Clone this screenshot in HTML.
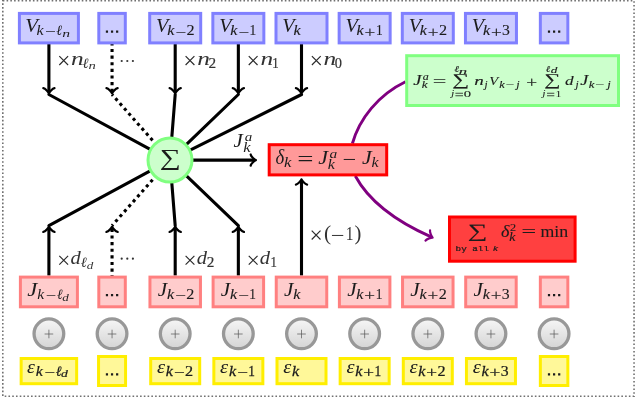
<!DOCTYPE html>
<html><head><meta charset="utf-8"><title>diagram</title>
<style>html,body{margin:0;padding:0;background:#fff;overflow:hidden}svg{display:block}</style>
</head><body>
<svg width="638" height="400" viewBox="0 0 638 400">
<defs><filter id="bl" x="0" y="0" width="638" height="400" filterUnits="userSpaceOnUse"><feGaussianBlur stdDeviation="0.5"/></filter><linearGradient id="g" x1="0" y1="0" x2="0" y2="1"><stop offset="0" stop-color="#f6f6f6"/><stop offset="1" stop-color="#d4d4d4"/></linearGradient></defs>
<rect width="638" height="400" fill="#fff"/>
<g filter="url(#bl)">
<rect x="2.8" y="0.8" width="631.25" height="395.4" fill="none" stroke="#707070" stroke-width="1.6" stroke-dasharray="1.6 2.16"/>
<path d="M43.30 88.13 C45.40 88.48 48.55 92.33 48.90 93.38 C49.25 92.33 52.40 88.48 54.50 88.13" fill="none" stroke="#000" stroke-width="2.24" stroke-linecap="round" stroke-linejoin="round"/>
<line x1="48.90" y1="44.00" x2="48.90" y2="92.33" stroke="#000" stroke-width="3.1" stroke-linecap="butt"/>
<line x1="48.90" y1="94.50" x2="150.22" y2="149.38" stroke="#000" stroke-width="3.1" stroke-linecap="round"/>
<path d="M106.45 88.13 C108.55 88.48 111.70 92.33 112.05 93.38 C112.40 92.33 115.55 88.48 117.65 88.13" fill="none" stroke="#000" stroke-width="2.24" stroke-linecap="round" stroke-linejoin="round"/>
<line x1="112.05" y1="42.30" x2="112.05" y2="92.33" stroke="#000" stroke-width="3.1" stroke-dasharray="3.1 3.53" stroke-dashoffset="0" stroke-linecap="butt"/>
<line x1="112.05" y1="94.50" x2="155.10" y2="143.24" stroke="#000" stroke-width="3.1" stroke-dasharray="3.1 3.53" stroke-dashoffset="1.55" stroke-linecap="butt"/>
<path d="M169.60 88.13 C171.70 88.48 174.85 92.33 175.20 93.38 C175.55 92.33 178.70 88.48 180.80 88.13" fill="none" stroke="#000" stroke-width="2.24" stroke-linecap="round" stroke-linejoin="round"/>
<line x1="175.20" y1="44.00" x2="175.20" y2="92.33" stroke="#000" stroke-width="3.1" stroke-linecap="butt"/>
<line x1="175.20" y1="94.50" x2="171.78" y2="137.67" stroke="#000" stroke-width="3.1" stroke-linecap="round"/>
<path d="M232.75 88.13 C234.85 88.48 238.00 92.33 238.35 93.38 C238.70 92.33 241.85 88.48 243.95 88.13" fill="none" stroke="#000" stroke-width="2.24" stroke-linecap="round" stroke-linejoin="round"/>
<line x1="238.35" y1="44.00" x2="238.35" y2="92.33" stroke="#000" stroke-width="3.1" stroke-linecap="butt"/>
<line x1="238.35" y1="94.50" x2="186.23" y2="144.52" stroke="#000" stroke-width="3.1" stroke-linecap="round"/>
<path d="M295.90 88.13 C298.00 88.48 301.15 92.33 301.50 93.38 C301.85 92.33 305.00 88.48 307.10 88.13" fill="none" stroke="#000" stroke-width="2.24" stroke-linecap="round" stroke-linejoin="round"/>
<line x1="301.50" y1="44.00" x2="301.50" y2="92.33" stroke="#000" stroke-width="3.1" stroke-linecap="butt"/>
<line x1="301.50" y1="94.50" x2="190.13" y2="150.06" stroke="#000" stroke-width="3.1" stroke-linecap="round"/>
<path d="M54.50 231.97 C52.40 231.62 49.25 227.77 48.90 226.72 C48.55 227.77 45.40 231.62 43.30 231.97" fill="none" stroke="#000" stroke-width="2.24" stroke-linecap="round" stroke-linejoin="round"/>
<line x1="48.90" y1="275.50" x2="48.90" y2="227.77" stroke="#000" stroke-width="3.1" stroke-linecap="butt"/>
<line x1="48.90" y1="225.60" x2="150.21" y2="170.80" stroke="#000" stroke-width="3.1" stroke-linecap="round"/>
<path d="M117.65 231.97 C115.55 231.62 112.40 227.77 112.05 226.72 C111.70 227.77 108.55 231.62 106.45 231.97" fill="none" stroke="#000" stroke-width="2.24" stroke-linecap="round" stroke-linejoin="round"/>
<line x1="112.05" y1="278.30" x2="112.05" y2="227.77" stroke="#000" stroke-width="3.1" stroke-dasharray="3.1 3.53" stroke-dashoffset="0" stroke-linecap="butt"/>
<line x1="112.05" y1="225.60" x2="155.09" y2="176.95" stroke="#000" stroke-width="3.1" stroke-dasharray="3.1 3.53" stroke-dashoffset="1.55" stroke-linecap="butt"/>
<path d="M180.80 231.97 C178.70 231.62 175.55 227.77 175.20 226.72 C174.85 227.77 171.70 231.62 169.60 231.97" fill="none" stroke="#000" stroke-width="2.24" stroke-linecap="round" stroke-linejoin="round"/>
<line x1="175.20" y1="275.50" x2="175.20" y2="227.77" stroke="#000" stroke-width="3.1" stroke-linecap="butt"/>
<line x1="175.20" y1="225.60" x2="171.78" y2="182.53" stroke="#000" stroke-width="3.1" stroke-linecap="round"/>
<path d="M243.95 231.97 C241.85 231.62 238.70 227.77 238.35 226.72 C238.00 227.77 234.85 231.62 232.75 231.97" fill="none" stroke="#000" stroke-width="2.24" stroke-linecap="round" stroke-linejoin="round"/>
<line x1="238.35" y1="275.50" x2="238.35" y2="227.77" stroke="#000" stroke-width="3.1" stroke-linecap="butt"/>
<line x1="238.35" y1="225.60" x2="186.24" y2="175.67" stroke="#000" stroke-width="3.1" stroke-linecap="round"/>
<path d="M307.10 184.67 C305.00 184.32 301.85 180.47 301.50 179.42 C301.15 180.47 298.00 184.32 295.90 184.67" fill="none" stroke="#000" stroke-width="2.24" stroke-linecap="round" stroke-linejoin="round"/>
<line x1="301.50" y1="275.50" x2="301.50" y2="180.47" stroke="#000" stroke-width="3.1" stroke-linecap="butt"/>
<path d="M250.63 165.70 C250.98 163.60 254.83 160.45 255.88 160.10 C254.83 159.75 250.98 156.60 250.63 154.50" fill="none" stroke="#000" stroke-width="2.24" stroke-linecap="round" stroke-linejoin="round"/>
<line x1="192.50" y1="160.10" x2="254.83" y2="160.10" stroke="#000" stroke-width="3.1" stroke-linecap="butt"/>
<circle cx="170" cy="160.1" r="22.0" fill="#ccffcc" stroke="#80ff80" stroke-width="3.0"/>
<path d="M352.4 143.5 C359.4 119 378 95 405.5 81.8" fill="none" stroke="#800080" stroke-width="2.9"/>
<path d="M425.50 240.53 C426.68 238.75 431.47 237.44 432.58 237.55 C431.76 236.80 429.52 232.36 430.05 230.30" fill="none" stroke="#800080" stroke-width="2.24" stroke-linecap="round" stroke-linejoin="round"/>
<path d="M355.3 176 C370.8 204.7 401.4 223.8 431.62 237.12" fill="none" stroke="#800080" stroke-width="2.9"/>
<rect x="19.40" y="13.40" width="59.00" height="29.50" fill="#ccccff" stroke="#8080ff" stroke-width="3.0"/>
<rect x="20.40" y="277.10" width="57.00" height="29.70" fill="#ffcccc" stroke="#ff8080" stroke-width="3.0"/>
<rect x="21.15" y="358.50" width="55.50" height="25.20" fill="#fff899" stroke="#ffee00" stroke-width="3.0"/>
<circle cx="48.9" cy="333.8" r="14.85" fill="url(#g)" stroke="#989898" stroke-width="3.3"/>
<path d="M44.60 334H53.20M48.90 329.7V338.3" stroke="#555" stroke-width="0.7" fill="none"/>
<rect x="98.80" y="13.40" width="26.50" height="29.50" fill="#ccccff" stroke="#8080ff" stroke-width="3.0"/>
<rect x="98.80" y="277.10" width="26.50" height="29.70" fill="#ffcccc" stroke="#ff8080" stroke-width="3.0"/>
<rect x="98.55" y="356.50" width="27.00" height="29.00" fill="#fff899" stroke="#ffee00" stroke-width="3.0"/>
<circle cx="112.05" cy="333.8" r="14.85" fill="url(#g)" stroke="#989898" stroke-width="3.3"/>
<path d="M107.75 334H116.35M112.05 329.7V338.3" stroke="#555" stroke-width="0.7" fill="none"/>
<rect x="149.70" y="13.40" width="51.00" height="29.50" fill="#ccccff" stroke="#8080ff" stroke-width="3.0"/>
<rect x="149.95" y="277.10" width="50.50" height="29.70" fill="#ffcccc" stroke="#ff8080" stroke-width="3.0"/>
<rect x="150.70" y="358.50" width="49.00" height="25.20" fill="#fff899" stroke="#ffee00" stroke-width="3.0"/>
<circle cx="175.2" cy="333.8" r="14.85" fill="url(#g)" stroke="#989898" stroke-width="3.3"/>
<path d="M170.90 334H179.50M175.20 329.7V338.3" stroke="#555" stroke-width="0.7" fill="none"/>
<rect x="212.85" y="13.40" width="51.00" height="29.50" fill="#ccccff" stroke="#8080ff" stroke-width="3.0"/>
<rect x="213.10" y="277.10" width="50.50" height="29.70" fill="#ffcccc" stroke="#ff8080" stroke-width="3.0"/>
<rect x="213.85" y="358.50" width="49.00" height="25.20" fill="#fff899" stroke="#ffee00" stroke-width="3.0"/>
<circle cx="238.35" cy="333.8" r="14.85" fill="url(#g)" stroke="#989898" stroke-width="3.3"/>
<path d="M234.05 334H242.65M238.35 329.7V338.3" stroke="#555" stroke-width="0.7" fill="none"/>
<rect x="276.00" y="13.40" width="51.00" height="29.50" fill="#ccccff" stroke="#8080ff" stroke-width="3.0"/>
<rect x="276.25" y="277.10" width="50.50" height="29.70" fill="#ffcccc" stroke="#ff8080" stroke-width="3.0"/>
<rect x="277.00" y="358.50" width="49.00" height="25.20" fill="#fff899" stroke="#ffee00" stroke-width="3.0"/>
<circle cx="301.5" cy="333.8" r="14.85" fill="url(#g)" stroke="#989898" stroke-width="3.3"/>
<path d="M297.20 334H305.80M301.50 329.7V338.3" stroke="#555" stroke-width="0.7" fill="none"/>
<rect x="339.15" y="13.40" width="51.00" height="29.50" fill="#ccccff" stroke="#8080ff" stroke-width="3.0"/>
<rect x="339.40" y="277.10" width="50.50" height="29.70" fill="#ffcccc" stroke="#ff8080" stroke-width="3.0"/>
<rect x="340.15" y="358.50" width="49.00" height="25.20" fill="#fff899" stroke="#ffee00" stroke-width="3.0"/>
<circle cx="364.65" cy="333.8" r="14.85" fill="url(#g)" stroke="#989898" stroke-width="3.3"/>
<path d="M360.35 334H368.95M364.65 329.7V338.3" stroke="#555" stroke-width="0.7" fill="none"/>
<rect x="402.30" y="13.40" width="51.00" height="29.50" fill="#ccccff" stroke="#8080ff" stroke-width="3.0"/>
<rect x="402.55" y="277.10" width="50.50" height="29.70" fill="#ffcccc" stroke="#ff8080" stroke-width="3.0"/>
<rect x="403.30" y="358.50" width="49.00" height="25.20" fill="#fff899" stroke="#ffee00" stroke-width="3.0"/>
<circle cx="427.79999999999995" cy="333.8" r="14.85" fill="url(#g)" stroke="#989898" stroke-width="3.3"/>
<path d="M423.50 334H432.10M427.80 329.7V338.3" stroke="#555" stroke-width="0.7" fill="none"/>
<rect x="465.45" y="13.40" width="51.00" height="29.50" fill="#ccccff" stroke="#8080ff" stroke-width="3.0"/>
<rect x="465.70" y="277.10" width="50.50" height="29.70" fill="#ffcccc" stroke="#ff8080" stroke-width="3.0"/>
<rect x="466.45" y="358.50" width="49.00" height="25.20" fill="#fff899" stroke="#ffee00" stroke-width="3.0"/>
<circle cx="490.95" cy="333.8" r="14.85" fill="url(#g)" stroke="#989898" stroke-width="3.3"/>
<path d="M486.65 334H495.25M490.95 329.7V338.3" stroke="#555" stroke-width="0.7" fill="none"/>
<rect x="540.35" y="13.40" width="27.50" height="29.50" fill="#ccccff" stroke="#8080ff" stroke-width="3.0"/>
<rect x="540.35" y="277.10" width="27.50" height="29.70" fill="#ffcccc" stroke="#ff8080" stroke-width="3.0"/>
<rect x="540.35" y="356.50" width="27.50" height="29.00" fill="#fff899" stroke="#ffee00" stroke-width="3.0"/>
<circle cx="554.1" cy="333.8" r="14.85" fill="url(#g)" stroke="#989898" stroke-width="3.3"/>
<path d="M549.80 334H558.40M554.10 329.7V338.3" stroke="#555" stroke-width="0.7" fill="none"/>
<rect x="269.20" y="144.70" width="117.50" height="30.20" fill="#ff9999" stroke="#ff0000" stroke-width="3.0"/>
<rect x="406.70" y="55.70" width="211.80" height="49.80" fill="#ccffcc" stroke="#80ff80" stroke-width="3.0"/>
<rect x="449.50" y="217.00" width="125.60" height="44.20" fill="#ff4040" stroke="#ff0000" stroke-width="3.0"/>
<path d="M105.85 31.7h2.2M110.95 31.7h2.2M116.05 31.7h2.2" stroke="#1c1c1c" stroke-width="2.2" fill="none"/>
<path d="M105.85 295.2h2.2M110.95 295.2h2.2M116.05 295.2h2.2" stroke="#1c1c1c" stroke-width="2.2" fill="none"/>
<path d="M105.85 374.3h2.2M110.95 374.3h2.2M116.05 374.3h2.2" stroke="#1c1c1c" stroke-width="2.2" fill="none"/>
<text transform="translate(156.05 32.25) scale(1.043 1.000)" font-family="Liberation Serif" font-size="19.32" font-style="italic" fill="#1c1c1c">V</text>
<text transform="translate(167.14 35.40) scale(1.115 1.000)" font-family="Liberation Serif" font-size="14.40" font-style="italic" fill="#1c1c1c" stroke="#1c1c1c" stroke-width="0.12">k</text>
<text transform="translate(175.15 36.50) scale(1.328 1.000)" font-family="Liberation Serif" font-size="14.40" fill="#1c1c1c" stroke="#1c1c1c" stroke-width="0.12">−</text>
<text transform="translate(186.39 35.40) scale(1.154 1.000)" font-family="Liberation Serif" font-size="14.05" fill="#1c1c1c" stroke="#1c1c1c" stroke-width="0.12">2</text>
<text transform="translate(157.68 296.30) scale(1.074 1.000)" font-family="Liberation Serif" font-size="19.70" font-style="italic" fill="#1c1c1c">J</text>
<text transform="translate(166.89 299.00) scale(1.115 1.000)" font-family="Liberation Serif" font-size="14.40" font-style="italic" fill="#1c1c1c" stroke="#1c1c1c" stroke-width="0.12">k</text>
<text transform="translate(174.90 300.10) scale(1.328 1.000)" font-family="Liberation Serif" font-size="14.40" fill="#1c1c1c" stroke="#1c1c1c" stroke-width="0.12">−</text>
<text transform="translate(186.14 299.00) scale(1.154 1.000)" font-family="Liberation Serif" font-size="14.05" fill="#1c1c1c" stroke="#1c1c1c" stroke-width="0.12">2</text>
<text transform="translate(156.96 372.70) scale(1.108 1.000)" font-family="Liberation Serif" font-size="18.46" font-style="italic" fill="#1c1c1c">ε</text>
<text transform="translate(165.74 375.50) scale(1.115 1.000)" font-family="Liberation Serif" font-size="14.40" font-style="italic" fill="#1c1c1c" stroke="#1c1c1c" stroke-width="0.25">k</text>
<text transform="translate(173.75 376.60) scale(1.328 1.000)" font-family="Liberation Serif" font-size="14.40" fill="#1c1c1c" stroke="#1c1c1c" stroke-width="0.25">−</text>
<text transform="translate(184.99 375.50) scale(1.154 1.000)" font-family="Liberation Serif" font-size="14.05" fill="#1c1c1c" stroke="#1c1c1c" stroke-width="0.25">2</text>
<text transform="translate(219.20 32.25) scale(1.043 1.000)" font-family="Liberation Serif" font-size="19.32" font-style="italic" fill="#1c1c1c">V</text>
<text transform="translate(230.29 35.40) scale(1.115 1.000)" font-family="Liberation Serif" font-size="14.40" font-style="italic" fill="#1c1c1c" stroke="#1c1c1c" stroke-width="0.12">k</text>
<text transform="translate(238.30 36.50) scale(1.328 1.000)" font-family="Liberation Serif" font-size="14.40" fill="#1c1c1c" stroke="#1c1c1c" stroke-width="0.12">−</text>
<text transform="translate(249.58 35.40) scale(0.948 1.000)" font-family="Liberation Serif" font-size="14.09" fill="#1c1c1c" stroke="#1c1c1c" stroke-width="0.12">1</text>
<text transform="translate(220.83 296.30) scale(1.074 1.000)" font-family="Liberation Serif" font-size="19.70" font-style="italic" fill="#1c1c1c">J</text>
<text transform="translate(230.04 299.00) scale(1.115 1.000)" font-family="Liberation Serif" font-size="14.40" font-style="italic" fill="#1c1c1c" stroke="#1c1c1c" stroke-width="0.12">k</text>
<text transform="translate(238.05 300.10) scale(1.328 1.000)" font-family="Liberation Serif" font-size="14.40" fill="#1c1c1c" stroke="#1c1c1c" stroke-width="0.12">−</text>
<text transform="translate(249.33 299.00) scale(0.948 1.000)" font-family="Liberation Serif" font-size="14.09" fill="#1c1c1c" stroke="#1c1c1c" stroke-width="0.12">1</text>
<text transform="translate(220.11 372.70) scale(1.108 1.000)" font-family="Liberation Serif" font-size="18.46" font-style="italic" fill="#1c1c1c">ε</text>
<text transform="translate(228.89 375.50) scale(1.115 1.000)" font-family="Liberation Serif" font-size="14.40" font-style="italic" fill="#1c1c1c" stroke="#1c1c1c" stroke-width="0.25">k</text>
<text transform="translate(236.90 376.60) scale(1.328 1.000)" font-family="Liberation Serif" font-size="14.40" fill="#1c1c1c" stroke="#1c1c1c" stroke-width="0.25">−</text>
<text transform="translate(248.18 375.50) scale(0.948 1.000)" font-family="Liberation Serif" font-size="14.09" fill="#1c1c1c" stroke="#1c1c1c" stroke-width="0.25">1</text>
<text transform="translate(282.35 32.25) scale(1.043 1.000)" font-family="Liberation Serif" font-size="19.32" font-style="italic" fill="#1c1c1c">V</text>
<text transform="translate(293.44 35.40) scale(1.115 1.000)" font-family="Liberation Serif" font-size="14.40" font-style="italic" fill="#1c1c1c" stroke="#1c1c1c" stroke-width="0.12">k</text>
<text transform="translate(283.98 296.30) scale(1.074 1.000)" font-family="Liberation Serif" font-size="19.70" font-style="italic" fill="#1c1c1c">J</text>
<text transform="translate(293.19 299.00) scale(1.115 1.000)" font-family="Liberation Serif" font-size="14.40" font-style="italic" fill="#1c1c1c" stroke="#1c1c1c" stroke-width="0.12">k</text>
<text transform="translate(283.26 372.70) scale(1.108 1.000)" font-family="Liberation Serif" font-size="18.46" font-style="italic" fill="#1c1c1c">ε</text>
<text transform="translate(292.04 375.50) scale(1.115 1.000)" font-family="Liberation Serif" font-size="14.40" font-style="italic" fill="#1c1c1c" stroke="#1c1c1c" stroke-width="0.25">k</text>
<text transform="translate(345.50 32.25) scale(1.043 1.000)" font-family="Liberation Serif" font-size="19.32" font-style="italic" fill="#1c1c1c">V</text>
<text transform="translate(356.59 35.40) scale(1.115 1.000)" font-family="Liberation Serif" font-size="14.40" font-style="italic" fill="#1c1c1c" stroke="#1c1c1c" stroke-width="0.12">k</text>
<text transform="translate(364.60 36.50) scale(1.328 1.000)" font-family="Liberation Serif" font-size="14.40" fill="#1c1c1c" stroke="#1c1c1c" stroke-width="0.12">+</text>
<text transform="translate(375.88 35.40) scale(0.948 1.000)" font-family="Liberation Serif" font-size="14.09" fill="#1c1c1c" stroke="#1c1c1c" stroke-width="0.12">1</text>
<text transform="translate(347.13 296.30) scale(1.074 1.000)" font-family="Liberation Serif" font-size="19.70" font-style="italic" fill="#1c1c1c">J</text>
<text transform="translate(356.34 299.00) scale(1.115 1.000)" font-family="Liberation Serif" font-size="14.40" font-style="italic" fill="#1c1c1c" stroke="#1c1c1c" stroke-width="0.12">k</text>
<text transform="translate(364.35 300.10) scale(1.328 1.000)" font-family="Liberation Serif" font-size="14.40" fill="#1c1c1c" stroke="#1c1c1c" stroke-width="0.12">+</text>
<text transform="translate(375.63 299.00) scale(0.948 1.000)" font-family="Liberation Serif" font-size="14.09" fill="#1c1c1c" stroke="#1c1c1c" stroke-width="0.12">1</text>
<text transform="translate(346.41 372.70) scale(1.108 1.000)" font-family="Liberation Serif" font-size="18.46" font-style="italic" fill="#1c1c1c">ε</text>
<text transform="translate(355.19 375.50) scale(1.115 1.000)" font-family="Liberation Serif" font-size="14.40" font-style="italic" fill="#1c1c1c" stroke="#1c1c1c" stroke-width="0.25">k</text>
<text transform="translate(363.20 376.60) scale(1.328 1.000)" font-family="Liberation Serif" font-size="14.40" fill="#1c1c1c" stroke="#1c1c1c" stroke-width="0.25">+</text>
<text transform="translate(374.48 375.50) scale(0.948 1.000)" font-family="Liberation Serif" font-size="14.09" fill="#1c1c1c" stroke="#1c1c1c" stroke-width="0.25">1</text>
<text transform="translate(408.65 32.25) scale(1.043 1.000)" font-family="Liberation Serif" font-size="19.32" font-style="italic" fill="#1c1c1c">V</text>
<text transform="translate(419.74 35.40) scale(1.115 1.000)" font-family="Liberation Serif" font-size="14.40" font-style="italic" fill="#1c1c1c" stroke="#1c1c1c" stroke-width="0.12">k</text>
<text transform="translate(427.75 36.50) scale(1.328 1.000)" font-family="Liberation Serif" font-size="14.40" fill="#1c1c1c" stroke="#1c1c1c" stroke-width="0.12">+</text>
<text transform="translate(438.99 35.40) scale(1.154 1.000)" font-family="Liberation Serif" font-size="14.05" fill="#1c1c1c" stroke="#1c1c1c" stroke-width="0.12">2</text>
<text transform="translate(410.28 296.30) scale(1.074 1.000)" font-family="Liberation Serif" font-size="19.70" font-style="italic" fill="#1c1c1c">J</text>
<text transform="translate(419.49 299.00) scale(1.115 1.000)" font-family="Liberation Serif" font-size="14.40" font-style="italic" fill="#1c1c1c" stroke="#1c1c1c" stroke-width="0.12">k</text>
<text transform="translate(427.50 300.10) scale(1.328 1.000)" font-family="Liberation Serif" font-size="14.40" fill="#1c1c1c" stroke="#1c1c1c" stroke-width="0.12">+</text>
<text transform="translate(438.74 299.00) scale(1.154 1.000)" font-family="Liberation Serif" font-size="14.05" fill="#1c1c1c" stroke="#1c1c1c" stroke-width="0.12">2</text>
<text transform="translate(409.56 372.70) scale(1.108 1.000)" font-family="Liberation Serif" font-size="18.46" font-style="italic" fill="#1c1c1c">ε</text>
<text transform="translate(418.34 375.50) scale(1.115 1.000)" font-family="Liberation Serif" font-size="14.40" font-style="italic" fill="#1c1c1c" stroke="#1c1c1c" stroke-width="0.25">k</text>
<text transform="translate(426.35 376.60) scale(1.328 1.000)" font-family="Liberation Serif" font-size="14.40" fill="#1c1c1c" stroke="#1c1c1c" stroke-width="0.25">+</text>
<text transform="translate(437.59 375.50) scale(1.154 1.000)" font-family="Liberation Serif" font-size="14.05" fill="#1c1c1c" stroke="#1c1c1c" stroke-width="0.25">2</text>
<text transform="translate(471.80 32.25) scale(1.043 1.000)" font-family="Liberation Serif" font-size="19.32" font-style="italic" fill="#1c1c1c">V</text>
<text transform="translate(482.89 35.40) scale(1.115 1.000)" font-family="Liberation Serif" font-size="14.40" font-style="italic" fill="#1c1c1c" stroke="#1c1c1c" stroke-width="0.12">k</text>
<text transform="translate(490.90 36.50) scale(1.328 1.000)" font-family="Liberation Serif" font-size="14.40" fill="#1c1c1c" stroke="#1c1c1c" stroke-width="0.12">+</text>
<text transform="translate(502.10 35.40) scale(1.120 1.000)" font-family="Liberation Serif" font-size="14.05" fill="#1c1c1c" stroke="#1c1c1c" stroke-width="0.12">3</text>
<text transform="translate(473.43 296.30) scale(1.074 1.000)" font-family="Liberation Serif" font-size="19.70" font-style="italic" fill="#1c1c1c">J</text>
<text transform="translate(482.64 299.00) scale(1.115 1.000)" font-family="Liberation Serif" font-size="14.40" font-style="italic" fill="#1c1c1c" stroke="#1c1c1c" stroke-width="0.12">k</text>
<text transform="translate(490.65 300.10) scale(1.328 1.000)" font-family="Liberation Serif" font-size="14.40" fill="#1c1c1c" stroke="#1c1c1c" stroke-width="0.12">+</text>
<text transform="translate(501.85 299.00) scale(1.120 1.000)" font-family="Liberation Serif" font-size="14.05" fill="#1c1c1c" stroke="#1c1c1c" stroke-width="0.12">3</text>
<text transform="translate(472.71 372.70) scale(1.108 1.000)" font-family="Liberation Serif" font-size="18.46" font-style="italic" fill="#1c1c1c">ε</text>
<text transform="translate(481.49 375.50) scale(1.115 1.000)" font-family="Liberation Serif" font-size="14.40" font-style="italic" fill="#1c1c1c" stroke="#1c1c1c" stroke-width="0.25">k</text>
<text transform="translate(489.50 376.60) scale(1.328 1.000)" font-family="Liberation Serif" font-size="14.40" fill="#1c1c1c" stroke="#1c1c1c" stroke-width="0.25">+</text>
<text transform="translate(500.70 375.50) scale(1.120 1.000)" font-family="Liberation Serif" font-size="14.05" fill="#1c1c1c" stroke="#1c1c1c" stroke-width="0.25">3</text>
<path d="M547.90 31.7h2.2M553.00 31.7h2.2M558.10 31.7h2.2" stroke="#1c1c1c" stroke-width="2.2" fill="none"/>
<path d="M547.90 295.2h2.2M553.00 295.2h2.2M558.10 295.2h2.2" stroke="#1c1c1c" stroke-width="2.2" fill="none"/>
<path d="M547.90 374.3h2.2M553.00 374.3h2.2M558.10 374.3h2.2" stroke="#1c1c1c" stroke-width="2.2" fill="none"/>
<text transform="translate(25.21 32.10) scale(1.071 1.000)" font-family="Liberation Serif" font-size="19.40" font-style="italic" fill="#1c1c1c">V</text>
<text transform="translate(36.54 35.40) scale(1.115 1.000)" font-family="Liberation Serif" font-size="14.40" font-style="italic" fill="#1c1c1c">k</text>
<text transform="translate(44.78 36.40) scale(1.351 1.000)" font-family="Liberation Serif" font-size="14.40" fill="#1c1c1c">−</text>
<text transform="translate(56.11 35.40) scale(0.994 1.000)" font-family="Liberation Serif" font-size="14.40" font-style="italic" fill="#1c1c1c">ℓ</text>
<text transform="translate(62.14 36.90) scale(1.561 1.000)" font-family="Liberation Serif" font-size="10.00" font-style="italic" fill="#1c1c1c">n</text>
<text transform="translate(27.26 296.30) scale(1.150 1.000)" font-family="Liberation Serif" font-size="19.70" font-style="italic" fill="#1c1c1c">J</text>
<text transform="translate(37.35 299.10) scale(1.083 1.000)" font-family="Liberation Serif" font-size="14.40" font-style="italic" fill="#1c1c1c">k</text>
<text transform="translate(45.47 300.30) scale(1.298 1.000)" font-family="Liberation Serif" font-size="14.40" fill="#1c1c1c">−</text>
<text transform="translate(56.72 299.10) scale(0.959 1.000)" font-family="Liberation Serif" font-size="14.40" font-style="italic" fill="#1c1c1c">ℓ</text>
<text transform="translate(62.30 300.60) scale(1.313 1.000)" font-family="Liberation Serif" font-size="10.00" font-style="italic" fill="#1c1c1c">d</text>
<text transform="translate(27.07 372.80) scale(1.066 1.000)" font-family="Liberation Serif" font-size="18.68" font-style="italic" fill="#1c1c1c">ε</text>
<text transform="translate(35.84 375.70) scale(1.115 1.000)" font-family="Liberation Serif" font-size="14.40" font-style="italic" fill="#1c1c1c" stroke="#1c1c1c" stroke-width="0.2">k</text>
<text transform="translate(44.16 376.80) scale(1.313 1.000)" font-family="Liberation Serif" font-size="14.40" fill="#1c1c1c" stroke="#1c1c1c" stroke-width="0.2">−</text>
<text transform="translate(55.51 375.70) scale(0.994 1.000)" font-family="Liberation Serif" font-size="14.40" font-style="italic" fill="#1c1c1c" stroke="#1c1c1c" stroke-width="0.2">ℓ</text>
<text transform="translate(60.98 377.20) scale(1.377 1.000)" font-family="Liberation Serif" font-size="10.00" font-style="italic" fill="#1c1c1c" stroke="#1c1c1c" stroke-width="0.2">d</text>
<path d="M59.30 56.20L68.10 65.00M68.10 56.20L59.30 65.00" stroke="#2a2a2a" stroke-width="1.15" fill="none"/>
<text transform="translate(71.00 64.80) scale(1.291 1.000)" font-family="Liberation Serif" font-size="19.60" font-style="italic" fill="#333">n</text>
<text transform="translate(82.20 67.80) scale(1.030 1.000)" font-family="Liberation Serif" font-size="14.40" font-style="italic" fill="#333">ℓ</text>
<text transform="translate(88.38 69.20) scale(1.466 1.000)" font-family="Liberation Serif" font-size="10.00" font-style="italic" fill="#333">n</text>
<path d="M185.60 56.20L194.40 65.00M194.40 56.20L185.60 65.00" stroke="#2a2a2a" stroke-width="1.15" fill="none"/>
<text transform="translate(197.30 64.80) scale(1.291 1.000)" font-family="Liberation Serif" font-size="19.60" font-style="italic" fill="#333">n</text>
<text transform="translate(208.43 67.80) scale(1.119 1.000)" font-family="Liberation Serif" font-size="13.60" fill="#333" stroke="#333" stroke-width="0.2">2</text>
<path d="M248.75 56.20L257.55 65.00M257.55 56.20L248.75 65.00" stroke="#2a2a2a" stroke-width="1.15" fill="none"/>
<text transform="translate(260.45 64.80) scale(1.291 1.000)" font-family="Liberation Serif" font-size="19.60" font-style="italic" fill="#333">n</text>
<text transform="translate(272.13 67.80) scale(0.940 1.000)" font-family="Liberation Serif" font-size="13.60" fill="#333" stroke="#333" stroke-width="0.2">1</text>
<path d="M311.90 56.20L320.70 65.00M320.70 56.20L311.90 65.00" stroke="#2a2a2a" stroke-width="1.15" fill="none"/>
<text transform="translate(323.60 64.80) scale(1.291 1.000)" font-family="Liberation Serif" font-size="19.60" font-style="italic" fill="#333">n</text>
<text transform="translate(334.85 67.80) scale(1.058 1.000)" font-family="Liberation Serif" font-size="13.60" fill="#333" stroke="#333" stroke-width="0.2">0</text>
<path d="M59.30 255.80L68.10 264.60M68.10 255.80L59.30 264.60" stroke="#2a2a2a" stroke-width="1.15" fill="none"/>
<text transform="translate(70.38 264.40) scale(1.104 1.000)" font-family="Liberation Serif" font-size="18.60" font-style="italic" fill="#333">d</text>
<text transform="translate(80.50 267.40) scale(1.030 1.000)" font-family="Liberation Serif" font-size="14.40" font-style="italic" fill="#333">ℓ</text>
<text transform="translate(86.80 268.80) scale(1.313 1.000)" font-family="Liberation Serif" font-size="10.00" font-style="italic" fill="#333">d</text>
<path d="M185.60 255.80L194.40 264.60M194.40 255.80L185.60 264.60" stroke="#2a2a2a" stroke-width="1.15" fill="none"/>
<text transform="translate(196.68 264.40) scale(1.104 1.000)" font-family="Liberation Serif" font-size="18.60" font-style="italic" fill="#333">d</text>
<text transform="translate(206.73 267.40) scale(1.119 1.000)" font-family="Liberation Serif" font-size="13.60" fill="#333" stroke="#333" stroke-width="0.2">2</text>
<path d="M248.75 255.80L257.55 264.60M257.55 255.80L248.75 264.60" stroke="#2a2a2a" stroke-width="1.15" fill="none"/>
<text transform="translate(259.83 264.40) scale(1.104 1.000)" font-family="Liberation Serif" font-size="18.60" font-style="italic" fill="#333">d</text>
<text transform="translate(270.43 267.40) scale(0.940 1.000)" font-family="Liberation Serif" font-size="13.60" fill="#333" stroke="#333" stroke-width="0.2">1</text>
<circle cx="121.70" cy="61" r="1.1" fill="#333"/>
<circle cx="127.30" cy="61" r="1.1" fill="#333"/>
<circle cx="132.90" cy="61" r="1.1" fill="#333"/>
<circle cx="121.70" cy="258.7" r="1.1" fill="#333"/>
<circle cx="127.30" cy="258.7" r="1.1" fill="#333"/>
<circle cx="132.90" cy="258.7" r="1.1" fill="#333"/>
<path d="M311.70 230.70L320.50 239.50M320.50 230.70L311.70 239.50" stroke="#2a2a2a" stroke-width="1.15" fill="none"/>
<text transform="translate(323.96 240.10) scale(1.071 1.000)" font-family="Liberation Serif" font-size="20.00" fill="#333">(</text>
<text transform="translate(330.79 241.60) scale(1.214 1.000)" font-family="Liberation Serif" font-size="20.00" fill="#333">−</text>
<text transform="translate(345.83 240.10) scale(0.806 1.000)" font-family="Liberation Serif" font-size="19.39" fill="#333">1</text>
<text transform="translate(354.53 240.10) scale(1.032 1.000)" font-family="Liberation Serif" font-size="20.00" fill="#333">)</text>
<text transform="translate(159.67 165.42) scale(1.317 1.000)" font-family="Liberation Serif" font-size="22.47" fill="#1c1c1c">∑</text>
<text transform="translate(233.58 147.20) scale(1.097 1.000)" font-family="Liberation Serif" font-size="19.09" font-style="italic" fill="#1c1c1c">J</text>
<text transform="translate(244.75 140.80) scale(1.113 1.000)" font-family="Liberation Serif" font-size="13.50" font-style="italic" fill="#1c1c1c">a</text>
<text transform="translate(243.22 152.30) scale(1.164 1.000)" font-family="Liberation Serif" font-size="14.20" font-style="italic" fill="#1c1c1c">k</text>
<text transform="translate(275.45 163.80) scale(0.934 1.000)" font-family="Liberation Serif" font-size="20.04" font-style="italic" fill="#1c1c1c">δ</text>
<text transform="translate(283.92 166.70) scale(1.164 1.000)" font-family="Liberation Serif" font-size="14.40" font-style="italic" fill="#1c1c1c">k</text>
<text transform="translate(297.17 166.30) scale(1.440 1.000)" font-family="Liberation Serif" font-size="20.00" fill="#1c1c1c">=</text>
<text transform="translate(318.37 163.80) scale(1.109 1.000)" font-family="Liberation Serif" font-size="19.85" font-style="italic" fill="#1c1c1c">J</text>
<text transform="translate(329.54 157.70) scale(1.147 1.000)" font-family="Liberation Serif" font-size="13.50" font-style="italic" fill="#1c1c1c">a</text>
<text transform="translate(327.84 169.10) scale(1.115 1.000)" font-family="Liberation Serif" font-size="14.40" font-style="italic" fill="#1c1c1c">k</text>
<text transform="translate(342.59 165.80) scale(1.214 1.000)" font-family="Liberation Serif" font-size="20.00" fill="#1c1c1c">−</text>
<text transform="translate(362.07 163.80) scale(1.109 1.000)" font-family="Liberation Serif" font-size="19.85" font-style="italic" fill="#1c1c1c">J</text>
<text transform="translate(371.54 166.70) scale(1.115 1.000)" font-family="Liberation Serif" font-size="14.40" font-style="italic" fill="#1c1c1c">k</text>
<text transform="translate(467.86 236.68) scale(1.459 1.000)" font-family="Liberation Serif" font-size="18.90" fill="#1c1c1c" stroke="#1c1c1c" stroke-width="0.12">∑</text>
<text transform="translate(455.59 251.30) scale(1.365 1.000)" font-family="Liberation Mono" font-size="6.80" fill="#1c1c1c" stroke="#1c1c1c" stroke-width="0.2">by all</text>
<text transform="translate(492.80 251.30) scale(1.372 1.000)" font-family="Liberation Mono" font-size="6.80" font-style="italic" fill="#1c1c1c" stroke="#1c1c1c" stroke-width="0.2">k</text>
<text transform="translate(501.07 237.40) scale(1.087 1.000)" font-family="Liberation Serif" font-size="16.60" font-style="italic" fill="#1c1c1c" stroke="#1c1c1c" stroke-width="0.12">δ</text>
<text transform="translate(510.06 230.90) scale(1.111 1.000)" font-family="Liberation Serif" font-size="11.00" fill="#1c1c1c" stroke="#1c1c1c" stroke-width="0.12">2</text>
<text transform="translate(509.30 240.70) scale(1.214 1.000)" font-family="Liberation Serif" font-size="11.50" font-style="italic" fill="#1c1c1c" stroke="#1c1c1c" stroke-width="0.12">k</text>
<text transform="translate(521.60 237.40) scale(1.625 1.000)" font-family="Liberation Serif" font-size="16.00" fill="#1c1c1c" stroke="#1c1c1c" stroke-width="0.12">=</text>
<text transform="translate(540.53 237.40) scale(1.111 1.000)" font-family="Liberation Serif" font-size="16.00" fill="#1c1c1c" stroke="#1c1c1c" stroke-width="0.12">min</text>
<text transform="translate(413.22 85.20) scale(1.368 1.000)" font-family="Liberation Serif" font-size="13.59" font-style="italic" fill="#1c1c1c" stroke="#1c1c1c" stroke-width="0.12">J</text>
<text transform="translate(422.64 80.20) scale(1.252 1.000)" font-family="Liberation Serif" font-size="9.60" font-style="italic" fill="#1c1c1c" stroke="#1c1c1c" stroke-width="0.12">a</text>
<text transform="translate(421.82 87.70) scale(1.358 1.000)" font-family="Liberation Serif" font-size="9.60" font-style="italic" fill="#1c1c1c" stroke="#1c1c1c" stroke-width="0.12">k</text>
<text transform="translate(432.70 86.20) scale(1.719 1.000)" font-family="Liberation Serif" font-size="14.00" fill="#1c1c1c" stroke="#1c1c1c" stroke-width="0.12">=</text>
<text transform="translate(452.03 85.31) scale(1.471 1.000)" font-family="Liberation Serif" font-size="16.14" fill="#1c1c1c" stroke="#1c1c1c" stroke-width="0.12">∑</text>
<text transform="translate(454.17 72.00) scale(1.236 1.000)" font-family="Liberation Serif" font-size="9.00" font-style="italic" fill="#1c1c1c" stroke="#1c1c1c" stroke-width="0.12">ℓ</text>
<text transform="translate(458.80 73.60) scale(1.952 1.000)" font-family="Liberation Serif" font-size="8.60" font-style="italic" fill="#1c1c1c" stroke="#1c1c1c" stroke-width="0.12">n</text>
<text transform="translate(451.36 96.00) scale(1.210 1.000)" font-family="Liberation Serif" font-size="8.60" font-style="italic" fill="#1c1c1c" stroke="#1c1c1c" stroke-width="0.12">j</text>
<path d="M455.4 93.25H463.0M455.4 95.75H463.0" stroke="#1c1c1c" stroke-width="0.8" fill="none"/>
<text transform="translate(463.84 96.50) scale(1.701 1.000)" font-family="Liberation Serif" font-size="8.60" fill="#1c1c1c" stroke="#1c1c1c" stroke-width="0.12">0</text>
<text transform="translate(474.32 85.10) scale(1.474 1.000)" font-family="Liberation Serif" font-size="13.00" font-style="italic" fill="#1c1c1c" stroke="#1c1c1c" stroke-width="0.12">n</text>
<text transform="translate(484.49 87.60) scale(1.156 1.000)" font-family="Liberation Serif" font-size="9.60" font-style="italic" fill="#1c1c1c" stroke="#1c1c1c" stroke-width="0.12">j</text>
<text transform="translate(489.33 85.10) scale(1.116 1.000)" font-family="Liberation Serif" font-size="13.13" font-style="italic" fill="#1c1c1c" stroke="#1c1c1c" stroke-width="0.12">V</text>
<text transform="translate(499.34 87.70) scale(1.285 1.000)" font-family="Liberation Serif" font-size="9.60" font-style="italic" fill="#1c1c1c" stroke="#1c1c1c" stroke-width="0.12">k</text>
<text transform="translate(505.75 88.40) scale(1.567 1.000)" font-family="Liberation Serif" font-size="9.60" fill="#1c1c1c" stroke="#1c1c1c" stroke-width="0.12">−</text>
<text transform="translate(516.31 87.70) scale(1.272 1.000)" font-family="Liberation Serif" font-size="9.60" font-style="italic" fill="#1c1c1c" stroke="#1c1c1c" stroke-width="0.12">j</text>
<text transform="translate(526.29 86.50) scale(1.382 1.000)" font-family="Liberation Serif" font-size="14.00" fill="#1c1c1c" stroke="#1c1c1c" stroke-width="0.12">+</text>
<text transform="translate(543.98 85.31) scale(1.409 1.000)" font-family="Liberation Serif" font-size="16.14" fill="#1c1c1c" stroke="#1c1c1c" stroke-width="0.12">∑</text>
<text transform="translate(545.79 72.00) scale(1.136 1.000)" font-family="Liberation Serif" font-size="9.00" font-style="italic" fill="#1c1c1c" stroke="#1c1c1c" stroke-width="0.12">ℓ</text>
<text transform="translate(550.85 73.30) scale(1.504 1.000)" font-family="Liberation Serif" font-size="8.80" font-style="italic" fill="#1c1c1c" stroke="#1c1c1c" stroke-width="0.12">d</text>
<text transform="translate(542.61 96.00) scale(1.210 1.000)" font-family="Liberation Serif" font-size="8.60" font-style="italic" fill="#1c1c1c" stroke="#1c1c1c" stroke-width="0.12">j</text>
<path d="M547.0 93.25H554.3M547.0 95.75H554.3" stroke="#1c1c1c" stroke-width="0.8" fill="none"/>
<text transform="translate(555.65 96.50) scale(1.255 1.000)" font-family="Liberation Serif" font-size="8.60" fill="#1c1c1c" stroke="#1c1c1c" stroke-width="0.12">1</text>
<text transform="translate(565.08 84.90) scale(1.415 1.000)" font-family="Liberation Serif" font-size="12.20" font-style="italic" fill="#1c1c1c" stroke="#1c1c1c" stroke-width="0.12">d</text>
<text transform="translate(575.62 87.60) scale(1.185 1.000)" font-family="Liberation Serif" font-size="9.60" font-style="italic" fill="#1c1c1c" stroke="#1c1c1c" stroke-width="0.12">j</text>
<text transform="translate(580.22 85.20) scale(1.337 1.000)" font-family="Liberation Serif" font-size="13.59" font-style="italic" fill="#1c1c1c" stroke="#1c1c1c" stroke-width="0.12">J</text>
<text transform="translate(588.63 87.70) scale(1.333 1.000)" font-family="Liberation Serif" font-size="9.60" font-style="italic" fill="#1c1c1c" stroke="#1c1c1c" stroke-width="0.12">k</text>
<text transform="translate(595.20 88.40) scale(1.679 1.000)" font-family="Liberation Serif" font-size="9.60" fill="#1c1c1c" stroke="#1c1c1c" stroke-width="0.12">−</text>
<text transform="translate(607.37 87.70) scale(1.330 1.000)" font-family="Liberation Serif" font-size="9.60" font-style="italic" fill="#1c1c1c" stroke="#1c1c1c" stroke-width="0.12">j</text>
</g>
</svg>
</body></html>
